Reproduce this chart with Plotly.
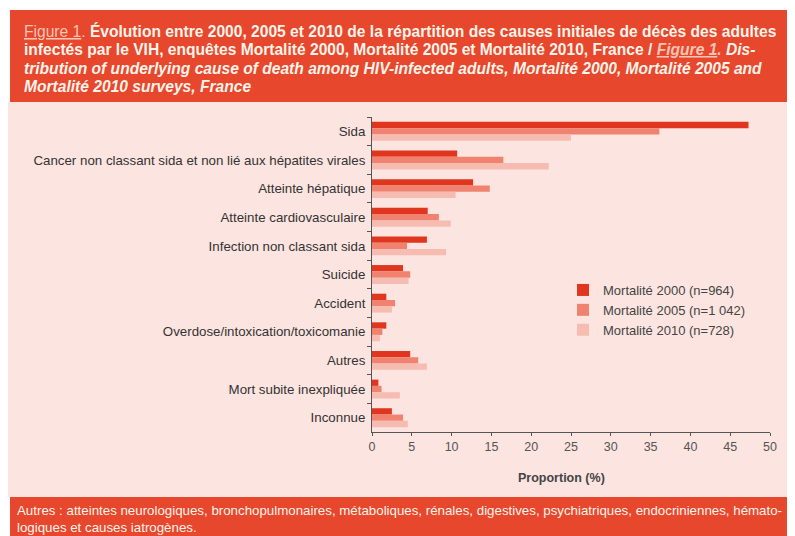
import plotly.graph_objects as go

categories = [
    "Sida",
    "Cancer non classant sida et non lié aux hépatites virales",
    "Atteinte hépatique",
    "Atteinte cardiovasculaire",
    "Infection non classant sida",
    "Suicide",
    "Accident",
    "Overdose/intoxication/toxicomanie",
    "Autres",
    "Mort subite inexpliquée",
    "Inconnue",
]
v2000 = [47.3, 10.7, 12.7, 7.0, 6.9, 3.9, 1.8, 1.8, 4.8, 0.8, 2.5]
v2005 = [36.1, 16.5, 14.8, 8.4, 4.4, 4.8, 2.9, 1.3, 5.8, 1.2, 3.9]
v2010 = [25.0, 22.2, 10.5, 9.9, 9.3, 4.6, 2.5, 1.0, 6.9, 3.5, 4.5]
series_names = ["Mortalité 2000 (n=964)", "Mortalité 2005 (n=1 042)", "Mortalité 2010 (n=728)"]
x_ticks = [0, 5, 10, 15, 20, 25, 30, 35, 40, 45, 50]

colors = ["#e0361f", "#f08270", "#f6bcb1"]
RED = "#e6472d"
PINK = "#fce4e0"

# page body has an 8px margin; work in viewport pixels and offset
OFF = 8
W, H = 795 - OFF, 536 - OFF
L, R, T, B = 372, 770, 117, 432  # viewport pixels of plot area


def px(x):
    return (x - L) / (R - L)


def py(y):
    return (B - y) / (B - T)


fig = go.Figure()
for name, vals, c in zip(series_names, [v2000, v2005, v2010], colors):
    fig.add_trace(go.Bar(y=categories, x=vals, orientation="h", name=name,
                         marker=dict(color=c, line=dict(width=0))))

shapes = [
    dict(type="rect", xref="paper", yref="paper", x0=px(8), x1=px(790), y0=py(102), y1=py(497),
         fillcolor=PINK, line=dict(width=0), layer="below"),
    dict(type="rect", xref="paper", yref="paper", x0=px(10), x1=px(790), y0=py(10), y1=py(102),
         fillcolor=RED, line=dict(width=0), layer="below"),
    dict(type="rect", xref="paper", yref="paper", x0=px(10), x1=px(790), y0=py(497), y1=py(545),
         fillcolor=RED, line=dict(width=0), layer="below"),
]

hfont = dict(family="Liberation Sans, Arial", size=15.6, color="#fff4ea")
header_lines = [
    "<span style='color:#f9c5b5'><u>Figure 1</u>.</span> <b>Évolution entre 2000, 2005 et 2010 de la répartition des causes initiales de décès des adultes</b>",
    "<b>infectés par le VIH, enquêtes Mortalité 2000, Mortalité 2005 et Mortalité 2010, France / </b><span style='color:#f9c5b5'><b><i><u>Figure 1</u>.</i></b></span><b><i> Dis-</i></b>",
    "<b><i>tribution of underlying cause of death among HIV-infected adults, Mortalité 2000, Mortalité 2005 and</i></b>",
    "<b><i>Mortalité 2010 surveys, France</i></b>",
]
header_y = [31, 49, 68, 87]
annotations = []
for t, y in zip(header_lines, header_y):
    annotations.append(dict(text=t, xref="paper", yref="paper", x=px(22), y=py(y),
                            xanchor="left", yanchor="middle", showarrow=False, font=hfont))

ffont = dict(family="Liberation Sans, Arial", size=13.3, color="#fff4ea")
footer_lines = [
    "Autres : atteintes neurologiques, bronchopulmonaires, métaboliques, rénales, digestives, psychiatriques, endocriniennes, hémato-",
    "logiques et causes iatrogènes.",
]
for t, y in zip(footer_lines, [510, 527]):
    annotations.append(dict(text=t, xref="paper", yref="paper", x=px(15), y=py(y),
                            xanchor="left", yanchor="middle", showarrow=False, font=ffont))

annotations.append(dict(text="<b>Proportion (%)</b>", xref="paper", yref="paper", x=px(561), y=py(478),
                        xanchor="center", yanchor="middle", showarrow=False,
                        font=dict(family="Liberation Sans, Arial", size=12.5, color="#444444")))

fig.update_layout(
    width=W, height=H,
    margin=dict(l=L - OFF, r=W - (R - OFF), t=T - OFF, b=H - (B - OFF), pad=0),
    paper_bgcolor="#fdfbf9",
    plot_bgcolor=PINK,
    barmode="group",
    bargap=0.34,
    bargroupgap=0.0,
    shapes=shapes,
    annotations=annotations,
    showlegend=True,
    legend=dict(x=px(563), y=py(275), xanchor="left", yanchor="top", bgcolor="rgba(0,0,0,0)",
                font=dict(family="Liberation Sans, Arial", size=13, color="#444444"),
                tracegroupgap=0, itemwidth=30, traceorder="normal"),
    font=dict(family="Liberation Sans, Arial", color="#333333"),
)
fig.update_xaxes(range=[0, 50], tickvals=x_ticks, ticktext=[str(v) for v in x_ticks],
                 showgrid=False, zeroline=False, showline=True, linecolor="#555555", linewidth=1,
                 ticks="outside", ticklen=3, tickcolor="#555555",
                 tickfont=dict(family="Liberation Sans, Arial", size=12.5, color="#555555"))
fig.update_yaxes(categoryorder="array", categoryarray=categories, autorange="reversed",
                 showgrid=False, zeroline=False, showline=True, linecolor="#555555", linewidth=1,
                 ticks="outside", ticklen=4, tickcolor="#555555", tickson="boundaries",
                 ticklabelstandoff=3,
                 tickfont=dict(family="Liberation Sans, Arial", size=13.3, color="#333333"))

fig.write_html("out.html")
